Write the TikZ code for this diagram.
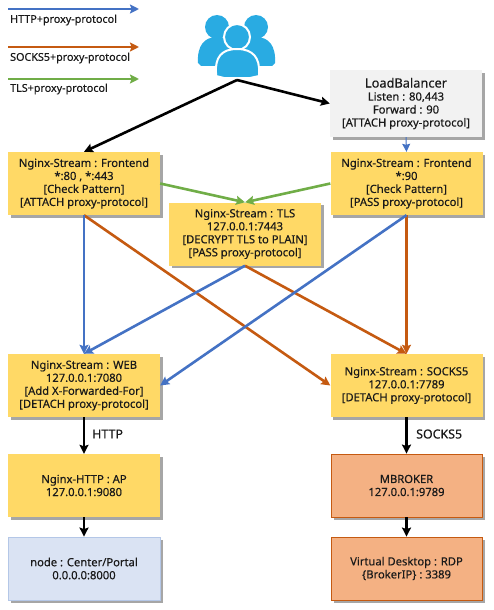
\documentclass[tikz,border=0pt]{standalone}
\usepackage{fontspec}
\setmainfont{Noto Sans}[RawFeature={embolden=0.35}]
\usetikzlibrary{arrows.meta,shadows}
\definecolor{yel}{HTML}{FFD966}
\definecolor{org}{HTML}{F4B183}
\definecolor{orgd}{HTML}{C55A11}
\definecolor{lblue}{HTML}{DAE3F3}
\definecolor{lblued}{HTML}{B4C7E7}
\definecolor{lgray}{HTML}{F2F2F2}
\definecolor{blu}{HTML}{4472C4}
\definecolor{grn}{HTML}{70AD47}
\definecolor{sky}{HTML}{29ABE2}
\definecolor{txt}{HTML}{1A1A1A}
\tikzset{
 x=1pt,y=-1pt,
 boxbase/.style={minimum width=152pt,minimum height=63pt,inner sep=0pt,align=center,
   text=txt,font=\fontsize{11.2}{13}\selectfont,
   execute at begin node={\rule{0pt}{12pt}},
   general shadow={shadow xshift=2.5pt,shadow yshift=-2.5pt,fill=black,opacity=.35}},
 yelbox/.style={boxbase,fill=yel},
 orgbox/.style={boxbase,fill=org,draw=orgd,line width=.8pt,minimum width=151pt},
 bluebox/.style={boxbase,fill=lblue,draw=lblued,line width=.8pt},
 graybox/.style={boxbase,fill=lgray,minimum height=67pt},
 lbl/.style={inner sep=0pt,anchor=west,text=txt,font=\fontsize{10.75}{13}\selectfont},
 biglbl/.style={lbl,font=\fontsize{12.4}{14}\selectfont},
 tip/.style={-{Stealth[length=9pt,width=9pt,inset=1.5pt]}},
 blk/.style={tip,draw=black,line width=2.6pt},
 bl/.style={tip,draw=blu,line width=2.6pt},
 og/.style={tip,draw=orgd,line width=2.6pt},
 gn/.style={tip,draw=grn,line width=2.6pt},
 thinbl/.style={-{Stealth[length=8pt,width=8pt,inset=1pt]},draw=blu,line width=1pt},
}
\begin{document}
\begin{tikzpicture}
\useasboundingbox (0,0) rectangle (493,610);
% users icon
\fill[sky] (217,27) circle (12);
\fill[sky] (256,27) circle (12);
\fill[sky] (198,63) .. controls (197,46) and (204,37) .. (217,37) .. controls (230,37) and (237,46) .. (236,63) -- (233,66) -- (201,66) -- cycle;
\fill[sky] (237,63) .. controls (236,46) and (243,37) .. (256,37) .. controls (269,37) and (276,46) .. (275,63) -- (272,66) -- (240,66) -- cycle;
\fill[sky,draw=white,line width=2pt] (237,37) circle (13);
\fill[sky,draw=white,line width=2pt] (216,73) .. controls (215,58) and (221,49) .. (237,49) .. controls (253,49) and (260,58) .. (259,73) -- (259,76) -- (250,78) -- (224,78) -- (216,76) -- cycle;
\coordinate (users) at (237,80);
% legend
\coordinate (h1) at (8,9); \coordinate (h2) at (139,9);
\coordinate (s1) at (8,47); \coordinate (s2) at (139,47);
\coordinate (t1) at (8,79); \coordinate (t2) at (139,79);
\draw[bl] (h1) -- (h2);
\draw[og] (s1) -- (s2);
\draw[gn] (t1) -- (t2);
\node[lbl] (lh) at (10,20) {HTTP+proxy-protocol};
\node[lbl] (ls) at (10,58) {SOCKS5+proxy-protocol};
\node[lbl] (lt) at (10,89) {TLS+proxy-protocol};
% boxes
\node[graybox] (lb) at (406,103.5) {{\fontsize{12.8}{14}\selectfont LoadBalancer}\\Listen : 80,443\\Forward : 90\\{[ATTACH proxy-protocol]}};
\node[yelbox] (fl) at (84,183.5) {Nginx-Stream : Frontend\\*:80 , *:443\\{[Check Pattern]}\\{[ATTACH proxy-protocol]}};
\node[yelbox] (fr) at (406.5,183.5) {Nginx-Stream : Frontend\\*:90\\{[Check Pattern]}\\{[PASS proxy-protocol]}};
\node[yelbox] (tls) at (245,234) {Nginx-Stream : TLS\\127.0.0.1:7443\\{[DECRYPT TLS to PLAIN]}\\{[PASS proxy-protocol]}};
\node[yelbox] (web) at (84,385.5) {Nginx-Stream : WEB\\127.0.0.1:7080\\{[Add X-Forwarded-For]}\\{[DETACH proxy-protocol]}};
\node[yelbox] (sk) at (406.5,385.5) {Nginx-Stream : SOCKS5\\127.0.0.1:7789\\{[DETACH proxy-protocol]}};
\node[yelbox] (ap) at (84,485.5) {Nginx-HTTP : AP\\127.0.0.1:9080};
\node[orgbox] (mb) at (406.5,485.5) {MBROKER\\127.0.0.1:9789};
\node[bluebox] (nd) at (84,568.5) {node : Center/Portal\\0.0.0.0:8000};
\node[orgbox] (vd) at (406.5,568.5) {Virtual Desktop : RDP\\\{BrokerIP\} : 3389};
% connectors
\draw[blk] (users) -- (fl.north);
\draw[blk] (users) -- (lb.west);
\draw[thinbl] (lb.south) -- (fr.north);
\draw[gn] (fl.east) -- (tls.north);
\draw[gn] (fr.west) -- (tls.north);
\draw[og] (fl.south) -- (sk.west);
\draw[og] (tls.south) -- (sk.north);
\draw[og] (fr.south) -- (sk.north);
\draw[bl] (fl.south) -- (web.north);
\draw[bl] (tls.south) -- (web.north);
\draw[bl] (fr.south) -- (web.east);
\draw[blk] (web.south) -- (ap.north);
\draw[blk] (ap.south) -- (nd.north);
\draw[blk] (sk.south) -- (mb.north);
\draw[blk] (mb.south) -- (vd.north);
\node[biglbl] (lhttp) at (92,434) {HTTP};
\node[biglbl] (lsocks) at (416,434) {SOCKS5};
\end{tikzpicture}
\end{document}
